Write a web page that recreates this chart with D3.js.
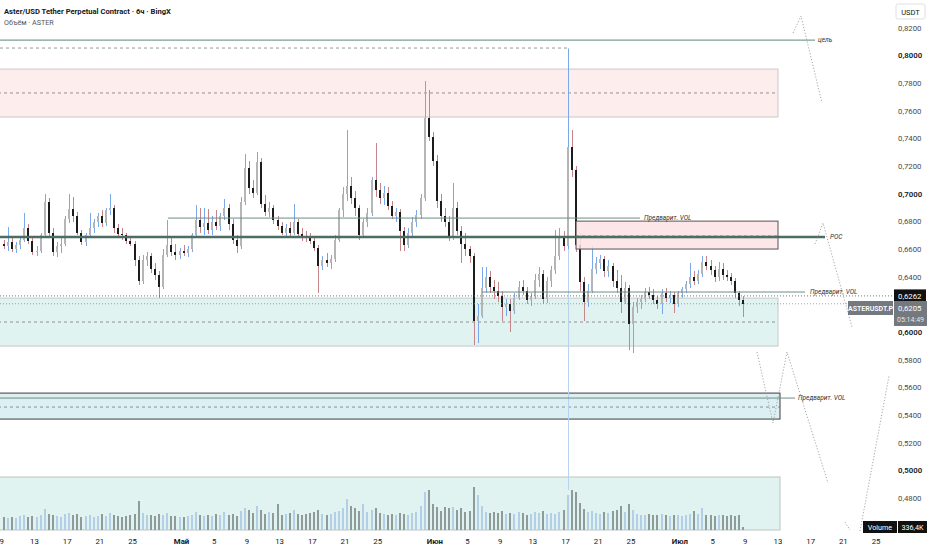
<!DOCTYPE html>
<html><head><meta charset="utf-8">
<script src="https://cdn.jsdelivr.net/npm/d3@7"></script>
<style>
body{margin:0;background:#fff;overflow:hidden}
svg{display:block;font-family:Roboto,"Noto Sans",sans-serif}
</style>
</head><body>
<svg id="c" width="932" height="550"></svg>
<script>
// ---- DATA (12h candles starting 2026-04-09 00:00 UTC) ----
const startDate = "2026-04-09T00:00:00Z";
const endDate = "2026-07-09T00:00:00Z";
const firstOpen = 0.664;
const highs = [
.667,.676,.668,.665,.668,.686,.678,.668,.662,.672,
.700,.697,.675,.665,.668,.684,.700,.698,.687,.674,
.672,.686,.682,.686,.688,.690,.700,.692,.678,.675,
.672,.668,.666,.655,.656,.658,.657,.650,.644,.660,
.681,.668,.664,.661,.663,.662,.672,.692,.690,.690,
.689,.684,.688,.686,.696,.693,.682,.670,.698,.729,
.724,.710,.730,.726,.699,.694,.692,.684,.680,.678,
.680,.693,.682,.675,.673,.672,.669,.663,.655,.657,
.656,.670,.690,.705,.746,.712,.702,.692,.682,.690,
.712,.737,.708,.706,.705,.695,.690,.689,.676,.675,
.683,.688,.700,.782,.775,.745,.728,.700,.690,.684,
.708,.694,.677,.672,.662,.657,.620,.647,.647,.644,
.638,.636,.630,.624,.624,.628,.637,.638,.633,.628,
.642,.647,.645,.640,.648,.674,.675,.673,.805,.746,
.720,.672,.640,.635,.662,.654,.656,.655,.652,.650,
.645,.641,.636,.634,.622,.625,.627,.632,.633,.631,
.626,.631,.632,.630,.629,.630,.633,.637,.650,.644,
.645,.655,.655,.652,.648,.651,.650,.645,.643,.639,
.630,.626];
const lows = [
.660,.659,.658,.657,.660,.665,.664,.656,.655,.657,
.668,.668,.655,.654,.657,.662,.679,.680,.670,.663,
.662,.668,.672,.676,.676,.677,.685,.672,.669,.667,
.664,.662,.648,.634,.635,.648,.643,.638,.625,.631,
.654,.655,.652,.653,.655,.654,.658,.668,.672,.670,
.671,.670,.674,.673,.681,.674,.664,.657,.660,.692,
.700,.697,.699,.690,.684,.683,.678,.674,.670,.668,
.669,.670,.668,.666,.665,.664,.659,.628,.645,.647,
.646,.651,.665,.683,.695,.693,.684,.667,.668,.676,
.684,.698,.693,.692,.688,.682,.680,.659,.659,.661,
.668,.676,.682,.695,.738,.720,.690,.680,.676,.666,
.667,.670,.650,.655,.650,.591,.592,.610,.628,.628,
.624,.622,.608,.612,.600,.613,.623,.627,.620,.619,
.624,.633,.620,.621,.633,.642,.652,.659,.660,.712,
.658,.630,.608,.618,.628,.642,.646,.640,.640,.633,
.628,.614,.620,.587,.585,.614,.617,.622,.624,.620,
.617,.613,.622,.621,.614,.618,.625,.628,.632,.634,
.635,.640,.645,.641,.636,.637,.638,.637,.634,.625,
.619,.611];
const closes = [
.662,.665,.660,.663,.667,.675,.666,.658,.659,.670,
.694,.672,.658,.662,.664,.682,.689,.684,.672,.665,
.670,.675,.680,.684,.679,.688,.690,.675,.671,.670,
.666,.664,.652,.637,.652,.655,.646,.641,.633,.656,
.663,.658,.656,.659,.657,.660,.670,.681,.676,.679,
.674,.680,.677,.684,.690,.678,.667,.662,.694,.719,
.704,.701,.723,.693,.687,.690,.681,.677,.672,.675,
.672,.680,.671,.669,.668,.666,.661,.648,.652,.650,
.653,.667,.688,.700,.706,.697,.690,.670,.680,.686,
.710,.703,.697,.701,.691,.684,.687,.673,.663,.672,
.680,.685,.697,.755,.741,.724,.695,.684,.680,.669,
.690,.673,.664,.660,.655,.608,.612,.632,.640,.633,
.630,.626,.618,.620,.615,.625,.633,.630,.623,.626,
.638,.642,.624,.637,.645,.655,.668,.662,.734,.717,
.663,.636,.622,.630,.646,.650,.653,.644,.648,.637,
.632,.622,.632,.606,.618,.622,.624,.629,.627,.623,
.620,.628,.625,.627,.620,.628,.631,.635,.640,.637,
.642,.651,.648,.645,.640,.646,.641,.640,.637,.628,
.623,.6205];
const volumes = [
1.3,1.2,1.3,1.2,1.4,1.5,1.3,1.4,1.3,1.5,
2.1,1.6,1.5,1.4,1.3,1.6,1.7,1.5,1.6,1.3,
1.4,1.5,1.3,1.4,1.6,1.4,1.7,1.5,1.4,1.3,
1.4,1.5,1.6,2.9,1.7,1.5,1.5,1.4,1.6,1.5,
1.7,1.4,1.4,1.3,1.3,1.4,1.5,1.8,1.5,1.4,
1.5,1.4,1.6,1.5,1.8,1.5,1.6,1.4,1.9,2.2,
2.0,1.7,2.4,2.0,1.6,1.8,1.7,2.6,1.5,1.6,
1.7,2.0,1.6,1.5,1.6,1.7,1.8,2.0,1.6,1.5,
1.6,1.8,1.9,2.2,3.1,2.4,2.2,1.9,2.6,1.8,
2.0,2.2,1.7,1.6,1.5,1.6,1.5,1.7,1.6,1.5,
1.7,1.8,2.4,3.8,4.0,2.6,2.3,1.9,2.3,2.2,
2.3,2.0,2.2,1.8,1.9,4.3,3.5,2.4,1.8,1.7,
1.8,1.7,1.9,1.6,1.7,1.6,1.8,1.7,1.5,1.6,
1.8,1.7,1.9,1.6,1.7,1.6,1.8,2.0,3.5,4.0,
3.8,2.7,2.1,1.8,1.9,1.7,1.6,1.8,1.7,1.9,
2.0,2.4,1.8,2.6,2.0,1.6,1.5,1.5,1.6,1.5,
1.5,1.6,1.5,1.4,1.5,1.5,1.4,1.5,1.6,1.9,
1.6,2.2,1.5,1.5,1.4,1.5,1.5,1.4,1.5,1.4,
1.5,0.34];
const priceTicks = [0.82,0.80,0.78,0.76,0.74,0.72,0.70,0.68,0.66,0.64,0.60,0.58,0.56,0.54,0.52,0.50,0.48];
const timeTickDates = ["2026-04-09","2026-04-13","2026-04-17","2026-04-21","2026-04-25",
 "2026-05-01","2026-05-05","2026-05-09","2026-05-13","2026-05-17","2026-05-21","2026-05-25",
 "2026-06-01","2026-06-05","2026-06-09","2026-06-13","2026-06-17","2026-06-21","2026-06-25",
 "2026-07-01","2026-07-05","2026-07-09","2026-07-13","2026-07-17","2026-07-21","2026-07-25"];
const timeTickLabels = ["9","13","17","21","25","Май","5","9","13","17","21","25",
 "Июн","5","9","13","17","21","25","Июл","5","9","13","17","21","25"];
// drawn levels (price values)
const targetLevel = 0.8113;
const spikeLevel = 0.8055;
const spikeIndex = 138;
const upperZone = [0.7903, 0.7556, 0.7730];   // top, bottom, mid
const volLevel1 = 0.6825;
const pocLevel = 0.6688;
const smallZone = [0.6803, 0.6601, 0.6695];
const volLevel2 = 0.6290;
const lastClose = 0.6262;
const lastPrice = 0.6205;
const lowerZone = [0.6246, 0.5899, 0.6073];
const deepZone = [0.5559, 0.5371, 0.5458];
const volLevel3 = 0.5523;

// ---- SCALES ----
const svg = d3.select("#c");
const W = 932, H = 550, plotR = 893;
const x = d3.scaleUtc().domain([new Date(startDate), new Date(endDate)]).range([1.8, 745.3]);
const y = d3.scaleLinear().domain([0.48, 0.82]).range([498, 28]);
const vy = d3.scaleLinear().domain([0, 10]).range([530, 430]);
const T0 = new Date(startDate).getTime();
const candleX = i => x(new Date(T0 + (i * 12 + 6) * 3600e3));
const dateAt = (iso, h) => new Date(new Date(iso + "T00:00:00Z").getTime() + (h||0)*3600e3);

const candles = closes.map((c, i) => ({
  i, o: i === 0 ? firstOpen : closes[i - 1], h: highs[i], l: lows[i], c, v: volumes[i]
}));

const plot = svg.append("g");
svg.append("clipPath").attr("id","pc").append("rect").attr("x",0).attr("y",0).attr("width",plotR).attr("height",535);
plot.attr("clip-path","url(#pc)");

// ---- ZONES ----
function zone(z, x0, x1, fill, stroke) {
  plot.append("rect").attr("x", x0).attr("y", y(z[0])).attr("width", x1 - x0).attr("height", y(z[1]) - y(z[0]))
    .attr("fill", fill).attr("stroke", stroke).attr("stroke-width", 1);
  plot.append("line").attr("x1", x0).attr("x2", x1).attr("y1", y(z[2])).attr("y2", y(z[2]))
    .attr("stroke", "#777").attr("stroke-width", 0.8).attr("stroke-dasharray", "3,3");
}
zone(upperZone, -2, 778, "#fdeded", "#c9c9c9");
zone(lowerZone, -2, 778, "#e1f3f0", "#c2cbc9");
zone(deepZone, -2, 780, "#dcf0f3", "#3d3d3d");
// volume zone
plot.append("rect").attr("x", -2).attr("y", 477).attr("width", 782).attr("height", 53)
  .attr("fill", "#e1f3f0").attr("stroke", "#bcc4c2").attr("stroke-width", 1);

// vertical guide + dashed top level (anchored at the spike candle)
const sx = Math.round(candleX(spikeIndex));
plot.append("rect").attr("x", sx - 0.5).attr("width", 1).attr("y", y(spikeLevel)).attr("height", 490 - y(spikeLevel))
  .attr("fill", "#b9d2ef").attr("shape-rendering", "crispEdges");
plot.append("line").attr("x1", 0).attr("x2", sx).attr("y1", y(spikeLevel)).attr("y2", y(spikeLevel))
  .attr("stroke", "#7f8f8b").attr("stroke-width", 0.9).attr("stroke-dasharray", "3,3");

// ---- VOLUME ----
plot.append("g").selectAll("rect").data(candles).join("rect")
  .attr("x", d => Math.round(candleX(d.i)) - 1).attr("width", 2)
  .attr("y", d => vy(d.v)).attr("height", d => 530 - vy(d.v))
  .attr("fill", d => d.c >= d.o ? "#b3cfe8" : "#8e9b99")
  .attr("shape-rendering", "crispEdges");

// ---- CANDLES ----
const cg = plot.append("g").attr("shape-rendering", "crispEdges");
cg.selectAll("rect.w").data(candles).join("rect").attr("class","w")
  .attr("x", d => Math.round(candleX(d.i)) - 0.5).attr("width", 1)
  .attr("y", d => y(d.h)).attr("height", d => Math.max(1, y(d.l) - y(d.h)))
  .attr("fill", d => d.c >= d.o ? "#7aa8ea" : "#c4868a");
cg.selectAll("rect.b").data(candles).join("rect").attr("class","b")
  .attr("x", d => Math.round(candleX(d.i)) - 1).attr("width", 2)
  .attr("y", d => y(Math.max(d.o, d.c))).attr("height", d => Math.max(1, Math.abs(y(d.o) - y(d.c))))
  .attr("fill", d => d.c >= d.o ? "#b3b5b9" : "#1c1c1c");

// ---- LEVEL LINES ----
function hline(p, x0, x1, color, w, dash) {
  const l = plot.append("line").attr("x1", x0).attr("x2", x1).attr("y1", y(p)).attr("y2", y(p))
    .attr("stroke", color).attr("stroke-width", w);
  if (dash) l.attr("stroke-dasharray", dash);
}
hline(targetLevel, 0, 815, "#7f9d95", 1.3);
hline(volLevel1, 168, 640, "#6f8d86", 1);
hline(pocLevel, 0, 825, "#4b6d64", 2.4);
// small red zone drawn over POC
plot.append("rect").attr("x", 576).attr("y", y(smallZone[0])).attr("width", 202).attr("height", y(smallZone[1]) - y(smallZone[0]))
  .attr("fill", "#fde2e4").attr("fill-opacity", 0.85).attr("stroke", "#555").attr("stroke-width", 1);
plot.append("line").attr("x1", 576).attr("x2", 778).attr("y1", y(smallZone[2])).attr("y2", y(smallZone[2]))
  .attr("stroke", "#777").attr("stroke-width", 0.8).attr("stroke-dasharray", "3,3");
hline(pocLevel, 576, 778, "#4b6d64", 2.4);
hline(volLevel2, 482, 805, "#6f8d86", 1);
hline(volLevel3, 0, 795, "#6f8d86", 1);
hline(lastClose, 0, plotR, "#555", 0.8, "1,2");
hline(lastPrice, 0, plotR, "#888", 0.8, "1,2");

// ---- PROJECTION PATHS ----
const proj = [
  [[793,33],[801,16],[822,103]],
  [[815,244],[823,223],[852,327]],
  [[757,352],[773,423],[787,352],[828,483]],
  [[845,522],[850,530]],
  [[860,531],[889,376]]
];
proj.forEach(p => plot.append("path").attr("d", d3.line()(p)).attr("fill","none")
  .attr("stroke","#8f8f8f").attr("stroke-width",0.8).attr("stroke-dasharray","1.2,1.8"));

// ---- LINE LABELS ----
function lab(t, xx, p) {
  svg.append("text").attr("x", xx).attr("y", y(p) + 2.3).text(t)
    .attr("font-size", 6.5).attr("font-style", "italic").attr("fill", "#333");
}
lab("цель", 818, targetLevel);
lab("Предварит. VOL", 644, volLevel1);
lab("POC", 830, pocLevel);
lab("Предварит. VOL", 810, volLevel2);
lab("Предварит. VOL", 798, volLevel3);

// ---- TITLE ----
svg.append("text").attr("x", 4).attr("y", 14).text("Aster/USD Tether Perpetual Contract · 6ч · BingX")
  .attr("font-size", 7.6).attr("font-weight", 700).attr("fill", "#131722");
svg.append("text").attr("x", 4).attr("y", 25).text("Объём · ASTER")
  .attr("font-size", 7.2).attr("fill", "#555");

// ---- PRICE AXIS ----
const pa = svg.append("g");
pa.append("rect").attr("x", 896).attr("y", 4).attr("width", 29).attr("height", 15).attr("rx", 2)
  .attr("fill", "#fff").attr("stroke", "#e0e0e0");
pa.append("text").attr("x", 910.5).attr("y", 14.5).attr("text-anchor", "middle").text("USDT")
  .attr("font-size", 7.5).attr("fill", "#131722");
priceTicks.forEach(p => {
  const major = Math.abs(p * 10 - Math.round(p * 10)) < 1e-6;
  pa.append("text").attr("x", 898).attr("y", y(p) + 2.8)
    .text(p.toFixed(4).replace(".", ","))
    .attr("font-size", 7.8).attr("fill", major ? "#131722" : "#4a4a4a")
    .attr("font-weight", major ? 600 : 400);
});
// last price tags
pa.append("rect").attr("x", 894).attr("y", y(lastClose) - 6.5).attr("width", 32).attr("height", 13).attr("fill", "#111");
pa.append("text").attr("x", 898).attr("y", y(lastClose) + 2.8).text(lastClose.toFixed(4).replace(".", ","))
  .attr("font-size", 7.8).attr("fill", "#fff");
pa.append("rect").attr("x", 894).attr("y", 301).attr("width", 33).attr("height", 25).attr("fill", "#74787f");
pa.append("text").attr("x", 898).attr("y", 311).text(lastPrice.toFixed(4).replace(".", ","))
  .attr("font-size", 7.8).attr("fill", "#fff");
pa.append("text").attr("x", 897).attr("y", 322).text("05:14:49").attr("font-size", 7).attr("fill", "#e6e6e6");
pa.append("rect").attr("x", 848).attr("y", 301).attr("width", 45).attr("height", 14).attr("fill", "#74787f");
pa.append("text").attr("x", 870.5).attr("y", 310.8).attr("text-anchor", "middle").text("ASTERUSDT.P")
  .attr("font-size", 7).attr("font-weight", 600).attr("fill", "#fff");
// volume tag
pa.append("rect").attr("x", 863).attr("y", 521).attr("width", 34).attr("height", 12).attr("fill", "#111");
pa.append("text").attr("x", 880).attr("y", 530).attr("text-anchor", "middle").text("Volume").attr("font-size", 7.2).attr("fill", "#fff");
pa.append("rect").attr("x", 898).attr("y", 521).attr("width", 29).attr("height", 12).attr("fill", "#111");
pa.append("text").attr("x", 912.5).attr("y", 530).attr("text-anchor", "middle").text("336,4K").attr("font-size", 7.2).attr("fill", "#fff");

// ---- TIME AXIS ----
const ta = svg.append("g");
timeTickDates.forEach((d, k) => {
  const lbl = timeTickLabels[k];
  const month = isNaN(+lbl);
  ta.append("text").attr("x", x(dateAt(d))).attr("y", 544).attr("text-anchor", "middle").text(lbl)
    .attr("font-size", 7.8).attr("font-weight", month ? 700 : 400).attr("fill", "#131722");
});
</script>
</body></html>
